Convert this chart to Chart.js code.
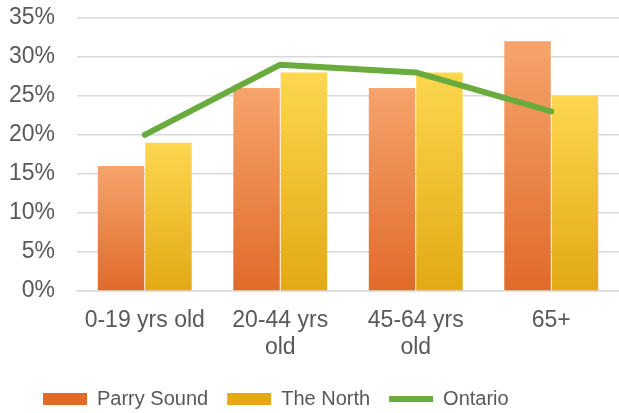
<!DOCTYPE html>
<html>
  <head>
    <script src="https://cdn.jsdelivr.net/npm/chart.js@4.4.1/dist/chart.umd.min.js"></script>
    <style>
      html, body {
        margin: 0;
        padding: 0;
        background: #ffffff;
      }
      .chart-container {
        width: 619px;
        height: 413px;
        position: relative;
      }
    </style>
  </head>
  <body>
    <div class="chart-container">
      <canvas id="ageChart"></canvas>
    </div>

    <script>
      const ageGroups = [['0-19 yrs old'], ['20-44 yrs', 'old'], ['45-64 yrs', 'old'], ['65+']];
      const parrySound = [16, 26, 26, 32];
      const theNorth = [19, 28, 28, 25];
      const ontario = [20, 29, 28, 23];
      const yTicks = [0, 5, 10, 15, 20, 25, 30, 35];

      const TEXT_COLOR = '#595959';
      const FONT = '"Liberation Sans", Arial, sans-serif';

      // top/bottom colours of each bar's vertical shading
      const orangeShade = ['#f6a46c', '#e06a2a'];
      const yellowShade = ['#fdd74f', '#e2a914'];

      function barGradient(shade) {
        return function(context) {
          const chart = context.chart;
          if (!chart.chartArea || context.raw === undefined) {
            return shade[1];
          }
          const yScale = chart.scales.y;
          const top = yScale.getPixelForValue(context.raw);
          const bottom = yScale.getPixelForValue(0);
          const g = chart.ctx.createLinearGradient(0, top, 0, bottom);
          g.addColorStop(0, shade[0]);
          g.addColorStop(1, shade[1]);
          return g;
        };
      }

      // nudges the legend into place and gives its boxes the same shading as the bars
      const legendPlacement = {
        id: 'legendPlacement',
        afterLayout(chart, args, opts) {
          const legend = chart.legend;
          if (!legend) return;
          legend.left += opts.dx;
          legend.right += opts.dx;
          legend.top += opts.dy;
          legend.bottom += opts.dy;
          const pad = chart.options.plugins.legend.labels.padding;
          const fontSize = chart.options.plugins.legend.labels.font.size;
          const boxH = chart.options.plugins.legend.labels.boxHeight;
          const boxTop = legend.top + pad + (fontSize - boxH) / 2;
          const shades = [orangeShade, yellowShade];
          legend.legendItems.forEach(function(item) {
            const shade = shades[item.datasetIndex];
            if (!shade) return;
            const g = chart.ctx.createLinearGradient(0, boxTop - 4, 0, boxTop + boxH + 4);
            g.addColorStop(0, shade[0]);
            g.addColorStop(1, shade[1]);
            item.fillStyle = g;
          });
        }
      };

      const ctx = document.getElementById('ageChart').getContext('2d');

      new Chart(ctx, {
        type: 'bar',
        data: {
          labels: ageGroups,
          datasets: [
            {
              label: 'Parry Sound',
              data: parrySound,
              backgroundColor: barGradient(orangeShade),
              borderWidth: 0,
              pointStyle: 'rect',
              order: 1
            },
            {
              label: 'The North',
              data: theNorth,
              backgroundColor: barGradient(yellowShade),
              borderWidth: 0,
              pointStyle: 'rect',
              order: 1
            },
            {
              type: 'line',
              label: 'Ontario',
              data: ontario,
              borderColor: '#6aab3e',
              backgroundColor: '#6aab3e',
              borderWidth: 6,
              borderCapStyle: 'round',
              borderJoinStyle: 'round',
              pointRadius: 0,
              pointStyle: 'line',
              tension: 0,
              fill: false,
              order: 0
            }
          ]
        },
        options: {
          responsive: true,
          maintainAspectRatio: false,
          animation: false,
          layout: {
            padding: 0
          },
          datasets: {
            bar: {
              categoryPercentage: 0.7,
              barPercentage: 0.98
            }
          },
          plugins: {
            legend: {
              position: 'bottom',
              align: 'start',
              labels: {
                usePointStyle: true,
                pointStyleWidth: 44,
                boxHeight: 12,
                padding: 19,
                color: TEXT_COLOR,
                font: { family: FONT, size: 20 },
                sort: function(a, b) {
                  return a.datasetIndex - b.datasetIndex;
                }
              }
            },
            tooltip: { enabled: false },
            legendPlacement: { dx: 24, dy: 6 }
          },
          scales: {
            x: {
              grid: { display: false, drawTicks: false },
              border: { display: true, color: '#d9d9d9', width: 1.5 },
              ticks: {
                color: TEXT_COLOR,
                padding: 16,
                maxRotation: 0,
                font: { family: FONT, size: 23, lineHeight: 1.17 }
              },
              afterFit: function(scale) {
                scale.height = 73;
              }
            },
            y: {
              min: 0,
              max: 35,
              afterBuildTicks: function(scale) {
                scale.ticks = yTicks.map(function(v) { return { value: v }; });
              },
              grid: {
                color: '#d9d9d9',
                lineWidth: 1.5,
                drawTicks: true,
                tickLength: 18,
                tickColor: 'rgba(0,0,0,0)'
              },
              border: { display: false },
              ticks: {
                color: TEXT_COLOR,
                padding: 4,
                font: { family: FONT, size: 23 },
                callback: function(value) {
                  return value + '%';
                }
              },
              afterFit: function(scale) {
                scale.width = 77;
              }
            }
          }
        },
        plugins: [legendPlacement]
      });
    </script>
  </body>
</html>
